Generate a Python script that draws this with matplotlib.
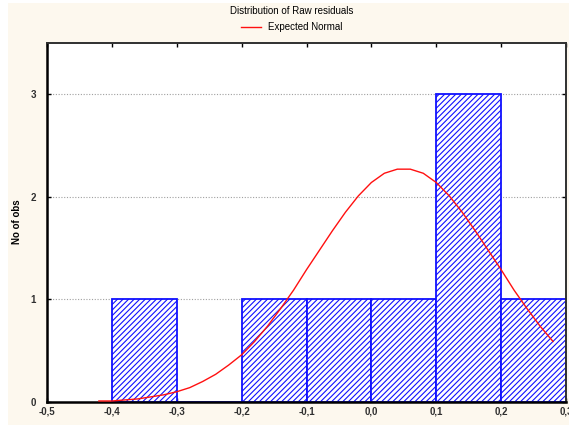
import matplotlib
matplotlib.use("Agg")
import matplotlib.pyplot as plt
from matplotlib.patches import Rectangle

plt.rcParams['font.family'] = ['Liberation Sans', 'DejaVu Sans']
plt.rcParams['hatch.color'] = '#2020ff'
plt.rcParams['hatch.linewidth'] = 0.8

# Histogram bins (left edges), bin width and counts
bin_left = [-0.4, -0.3, -0.2, -0.1, 0.0, 0.1, 0.2]
bin_width = 0.1
counts = [1, 0, 1, 1, 1, 3, 1]

# Expected Normal curve
curve_x = [-0.42, -0.40, -0.38, -0.36, -0.34, -0.32, -0.30, -0.28, -0.26, -0.24,
           -0.22, -0.20, -0.18, -0.16, -0.14, -0.12, -0.10, -0.08, -0.06, -0.04,
           -0.02, 0.00, 0.02, 0.04, 0.06, 0.08, 0.10, 0.12, 0.14, 0.16,
           0.18, 0.20, 0.22, 0.24, 0.26, 0.28]
curve_y = [0.01, 0.01, 0.02, 0.03, 0.05, 0.07, 0.10, 0.14, 0.20, 0.27,
           0.36, 0.46, 0.59, 0.74, 0.91, 1.09, 1.29, 1.48, 1.67, 1.85,
           2.01, 2.14, 2.23, 2.27, 2.27, 2.23, 2.14, 2.01, 1.85, 1.67,
           1.48, 1.29, 1.09, 0.91, 0.74, 0.59]

x_ticks = [-0.5, -0.4, -0.3, -0.2, -0.1, 0.0, 0.1, 0.2, 0.3]
x_labels = ['-0,5', '-0,4', '-0,3', '-0,2', '-0,1', '0,0', '0,1', '0,2', '0,3']
y_ticks = [0, 1, 2, 3]

W, H = 569, 428
fig = plt.figure(figsize=(W / 100, H / 100), dpi=100, facecolor='white')
cream = '#fdf8ee'
fig.patches.append(Rectangle((8 / W, 3 / H), 1 - 8 / W, 1 - 6 / H,
                             transform=fig.transFigure, facecolor=cream,
                             edgecolor='none', zorder=-10))

ax = fig.add_axes([47 / W, 1 - 402 / H, (566 - 47) / W, (402 - 43) / H])
ax.set_facecolor('white')
ax.set_xlim(-0.5, 0.3)
ax.set_ylim(0, 3.5)

for y in [1, 2, 3]:
    ax.axhline(y, color='#a0a0a0', lw=0.8, ls=(0, (1, 1.5)), zorder=0)

ax.bar(bin_left, counts, width=bin_width, align='edge', facecolor='white',
       edgecolor='#1010ff', hatch='//////', linewidth=1.3, zorder=2)

line, = ax.plot(curve_x, curve_y, color='#ff1010', lw=1.0, zorder=3,
                label='Expected Normal')

ax.set_xticks(x_ticks)
ax.set_xticklabels(x_labels, fontsize=7)
ax.set_yticks(y_ticks)
ax.set_yticklabels([str(v) for v in y_ticks], fontsize=7)
ax.tick_params(axis='both', direction='in', length=3, width=1,
               top=True, right=True, bottom=True, left=True)
ax.tick_params(axis='x', pad=3)
ax.tick_params(axis='y', pad=8)
for lab in ax.get_xticklabels() + ax.get_yticklabels():
    lab.set_fontweight('bold')
    lab.set_color('#303030')

for side in ['left', 'bottom']:
    ax.spines[side].set_linewidth(1.8)
    ax.spines[side].set_color('black')
for side in ['top', 'right']:
    ax.spines[side].set_linewidth(1.4)
    ax.spines[side].set_color('#303030')

fig.text(17 / W, 1 - 222 / H, 'No of obs', rotation=90, ha='center',
         va='center', fontsize=7, fontweight='bold')

fig.text(292 / W, 1 - 11 / H, 'Distribution of Raw residuals', ha='center',
         va='center', fontsize=7)
fig.legend(handles=[line], loc='center', bbox_to_anchor=(292 / W, 1 - 27 / H),
           frameon=False, fontsize=7, handlelength=2, handletextpad=0.8,
           borderpad=0)

fig.savefig('out.png', dpi=100, facecolor='white')
